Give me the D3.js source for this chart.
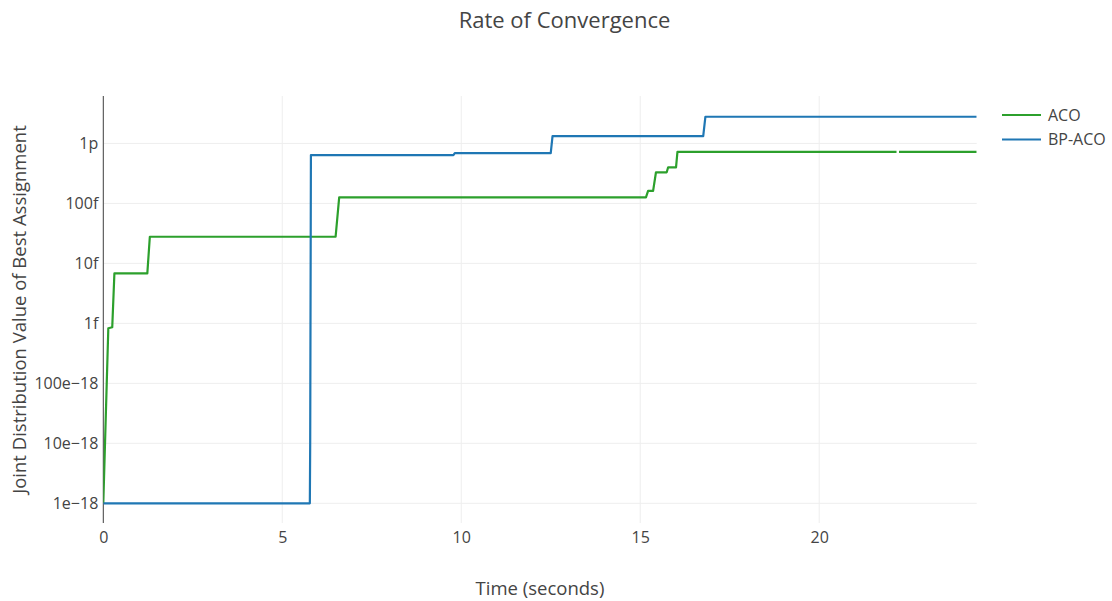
<!DOCTYPE html>
<html>
<head>
<meta charset="utf-8">
<script src="https://cdn.jsdelivr.net/npm/d3@7"></script>
<style>
  html, body { margin: 0; padding: 0; background: #fff; }
  svg { display: block; font-family: "Open Sans", sans-serif; }
</style>
</head>
<body>
<svg id="chart" width="1112" height="601"></svg>
<script>
// ---- data ----
const seriesNames = ["ACO", "BP-ACO"];
const seriesColors = ["#2ca02c", "#1f77b4"];

const acoTime  = [0, 0.14, 0.25, 0.31, 1.23, 1.30, 6.49, 6.59, 15.16, 15.22, 15.36, 15.44, 15.74, 15.78, 16.00, 16.04, 22.16, null, 22.23, 24.40];
const acoValue = [1e-18, 8.3e-16, 8.6e-16, 6.8e-15, 6.8e-15, 2.78e-14, 2.78e-14, 1.26e-13, 1.26e-13, 1.62e-13, 1.62e-13, 3.3e-13, 3.3e-13, 4.0e-13, 4.0e-13, 7.2e-13, 7.2e-13, null, 7.2e-13, 7.2e-13];

const bpTime  = [0, 5.77, 5.78, 5.80, 9.78, 9.82, 12.50, 12.55, 16.76, 16.82, 24.40];
const bpValue = [1e-18, 1e-18, 1e-17, 6.4e-13, 6.4e-13, 6.9e-13, 6.9e-13, 1.32e-12, 1.32e-12, 2.78e-12, 2.78e-12];

const xTickValues = [0, 5, 10, 15, 20];
const yTickValues = [1e-18, 1e-17, 1e-16, 1e-15, 1e-14, 1e-13, 1e-12];
const yTickLabels = ["1e\u221218", "10e\u221218", "100e\u221218", "1f", "10f", "100f", "1p"];

const xDomain = [0, 24.40];
const yDomain = [4.7e-19, 6.17e-12];

// ---- layout ----
const svg = d3.select("#chart");
const plot = { left: 103.3, right: 976.7, top: 96, bottom: 523 };

const x = d3.scaleLinear().domain(xDomain).range([plot.left, plot.right]);
const y = d3.scaleLog().domain(yDomain).range([plot.bottom, plot.top]);

const textColor = "#444";
const tickFont = "16px";

// grid lines
const grid = svg.append("g");
grid.selectAll("line.xg").data(xTickValues).enter().append("line")
  .attr("x1", d => x(d)).attr("x2", d => x(d))
  .attr("y1", plot.top).attr("y2", plot.bottom)
  .attr("stroke", "#eee").attr("stroke-width", 1);
grid.selectAll("line.yg").data(yTickValues).enter().append("line")
  .attr("x1", plot.left).attr("x2", plot.right)
  .attr("y1", d => y(d)).attr("y2", d => y(d))
  .attr("stroke", "#eee").attr("stroke-width", 1);

// x axis (labels only)
const xAxis = d3.axisBottom(x).tickValues(xTickValues).tickSize(0).tickPadding(0).tickFormat(d3.format("d"));
const gx = svg.append("g").attr("transform", `translate(0,${plot.bottom})`).call(xAxis);
gx.select(".domain").remove();
gx.selectAll("text").attr("fill", textColor).attr("y", 20).attr("dy", 0)
  .style("font-size", tickFont).style("font-family", "'Open Sans', sans-serif");

// y axis
const yAxis = d3.axisLeft(y).tickValues(yTickValues).tickSize(0).tickPadding(5)
  .tickFormat((d, i) => yTickLabels[i]);
const gy = svg.append("g").attr("transform", `translate(${plot.left},0)`).call(yAxis);
gy.select(".domain").remove();
gy.selectAll("text").attr("fill", textColor)
  .style("font-size", tickFont).style("font-family", "'Open Sans', sans-serif");

// y axis line
svg.append("line")
  .attr("x1", plot.left).attr("x2", plot.left)
  .attr("y1", plot.top).attr("y2", plot.bottom)
  .attr("stroke", "#444").attr("stroke-width", 1);

// lines
svg.append("clipPath").attr("id", "clip").append("rect")
  .attr("x", plot.left).attr("y", plot.top)
  .attr("width", plot.right - plot.left).attr("height", plot.bottom - plot.top);

const line = d3.line()
  .defined(d => d[0] !== null && d[1] !== null)
  .x(d => x(d[0])).y(d => y(d[1]));

const series = [
  d3.zip(acoTime, acoValue),
  d3.zip(bpTime, bpValue)
];

const gl = svg.append("g").attr("clip-path", "url(#clip)");
series.forEach((s, i) => {
  gl.append("path").datum(s)
    .attr("d", line)
    .attr("fill", "none")
    .attr("stroke", seriesColors[i])
    .attr("stroke-width", 2.2)
    .attr("stroke-linejoin", "round");
});

// title
svg.append("text")
  .attr("x", 564.5).attr("y", 28)
  .attr("text-anchor", "middle")
  .attr("fill", textColor)
  .style("font-size", "22px")
  .text("Rate of Convergence");

// axis titles
svg.append("text")
  .attr("x", (plot.left + plot.right) / 2).attr("y", 595)
  .attr("text-anchor", "middle")
  .attr("fill", textColor)
  .style("font-size", "18.5px")
  .text("Time (seconds)");

svg.append("text")
  .attr("transform", `translate(26,${(plot.top + plot.bottom) / 2}) rotate(-90)`)
  .attr("text-anchor", "middle")
  .attr("fill", textColor)
  .style("font-size", "18.5px")
  .text("Joint Distribution Value of Best Assignment");

// legend
const legend = svg.append("g");
seriesNames.forEach((name, i) => {
  const ly = 115 + i * 24.5;
  legend.append("line")
    .attr("x1", 1002).attr("x2", 1041)
    .attr("y1", ly).attr("y2", ly)
    .attr("stroke", seriesColors[i]).attr("stroke-width", 2.2);
  legend.append("text")
    .attr("x", 1048).attr("y", ly + 5.5)
    .attr("fill", textColor)
    .style("font-size", "16px")
    .text(name);
});
</script>
</body>
</html>
